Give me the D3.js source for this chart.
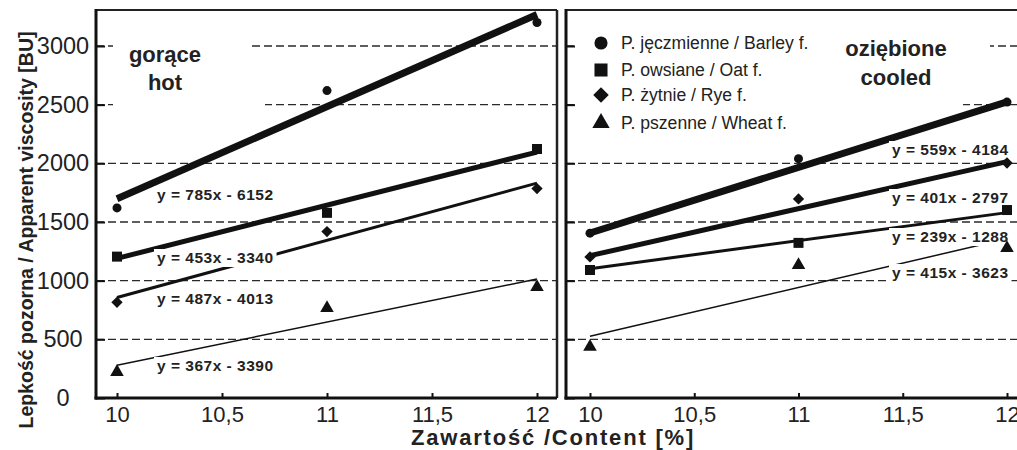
<!DOCTYPE html>
<html>
<head>
<meta charset="utf-8">
<script src="https://cdn.jsdelivr.net/npm/d3@7"></script>
<style>
  body { margin: 0; background: #fff; }
  svg { display: block; font-family: 'Liberation Sans', Arial, sans-serif; }
</style>
</head>
<body>
<svg width="1017" height="450"></svg>
<script>
// data
const contents = [10, 11, 12]
const xTicks = [10, 10.5, 11, 11.5, 12]
const yTicks = [0, 500, 1000, 1500, 2000, 2500, 3000]
const seriesKeys = ['barley', 'oat', 'rye', 'wheat']
const legendLabels = ['P. jęczmienne / Barley f.', 'P. owsiane / Oat f.', 'P. żytnie / Rye f.', 'P. pszenne / Wheat f.']

// hot pastes
const hotBarley = [1620, 2620, 3200]
const hotOat = [1205, 1578, 2122]
const hotRye = [815, 1418, 1785]
const hotWheat = [222, 767, 946]
const hotSlope = [785, 453, 487, 367]
const hotIntercept = [-6152, -3340, -4013, -3390]

// cooled pastes
const cooledBarley = [1405, 2040, 2522]
const cooledOat = [1091, 1322, 1602]
const cooledRye = [1202, 1697, 2003]
const cooledWheat = [437, 1133, 1278]
const cooledSlope = [559, 239, 401, 415]
const cooledIntercept = [-4184, -1288, -2797, -3623]

const svg = d3.select('svg')
const frameTop = 10
const frameBottom = 398

const y = d3.scaleLinear().domain([0, 3000]).range([frameBottom, 46])

const symbols = {
  barley: { type: d3.symbolCircle, size: 64, rot: 0 },
  oat: { type: d3.symbolSquare, size: 100, rot: 0 },
  rye: { type: d3.symbolSquare, size: 64, rot: 45 },
  wheat: { type: d3.symbolTriangle, size: 80, rot: 0 }
}

const panels = [
  {
    left: 96, right: 557, x: d3.scaleLinear().domain([10, 12]).range([117, 537]),
    values: [hotBarley, hotOat, hotRye, hotWheat],
    slope: hotSlope, intercept: hotIntercept,
    widths: [7, 5, 3, 1.5],
    labelX: 157, labelY: [200, 263, 304, 371], eqSize: 15.5,
    labels: true,
    title: ['gorące', 'hot'], titleX: 165, titleY: [62, 90],
    boxes: [[113, 28, 137, 44], [113, 72, 152, 40]]
  },
  {
    left: 566, right: 1030, x: d3.scaleLinear().domain([10, 12]).range([590, 1007]),
    values: [cooledBarley, cooledOat, cooledRye, cooledWheat],
    slope: cooledSlope, intercept: cooledIntercept,
    widths: [7, 3, 5, 1.5],
    labelX: 892, labelY: [155, 242, 203, 278], eqSize: 15.5,
    labels: false,
    title: ['oziębione', 'cooled'], titleX: 896, titleY: [56, 85],
    boxes: [[578, 28, 412, 44], [578, 72, 385, 40]]
  }
]

panels.forEach((p) => {
  const g = svg.append('g')

  // dashed grid
  g.append('g').selectAll('line')
    .data(yTicks.slice(1))
    .enter()
    .append('line')
    .attr('x1', p.left).attr('x2', p.right)
    .attr('y1', (d) => y(d)).attr('y2', (d) => y(d))
    .attr('stroke', '#2a2a2a')
    .attr('stroke-width', 1.4)
    .attr('stroke-dasharray', '8,4')

  // white boxes behind titles / legend
  g.append('g').selectAll('rect')
    .data(p.boxes)
    .enter()
    .append('rect')
    .attr('x', (d) => d[0]).attr('y', (d) => d[1])
    .attr('width', (d) => d[2]).attr('height', (d) => d[3])
    .attr('fill', '#fff')

  // trend lines
  g.append('g').selectAll('line')
    .data(seriesKeys)
    .enter()
    .append('line')
    .attr('x1', p.x(10)).attr('x2', p.x(12))
    .attr('y1', (d, i) => y(p.slope[i] * 10 + p.intercept[i]))
    .attr('y2', (d, i) => y(p.slope[i] * 12 + p.intercept[i]))
    .attr('stroke', '#111')
    .attr('stroke-width', (d, i) => p.widths[i])

  // equation labels with white background
  const eq = g.append('g').selectAll('g')
    .data(seriesKeys)
    .enter()
    .append('g')
    .attr('transform', (d, i) => `translate(${p.labelX},${p.labelY[i]})`)
  const eqRect = eq.append('rect')
    .attr('x', -3).attr('y', -14).attr('height', 18)
    .attr('fill', '#fff')
  eq.append('text')
    .attr('font-size', p.eqSize)
    .attr('font-weight', 'bold')
    .attr('letter-spacing', 0.5)
    .attr('fill', '#222')
    .text((d, i) => `y = ${p.slope[i]}x - ${-p.intercept[i]}`)
  eqRect.attr('width', function () {
    return this.parentNode.querySelector('text').getComputedTextLength() + 6
  })

  // markers
  seriesKeys.forEach((k, si) => {
    const s = symbols[k]
    g.append('g').selectAll('path')
      .data(p.values[si])
      .enter()
      .append('path')
      .attr('d', d3.symbol().type(s.type).size(s.size))
      .attr('transform', (d, i) => `translate(${p.x(contents[i])},${y(d)}) rotate(${s.rot})`)
      .attr('fill', '#111')
  })

  // titles
  g.append('g').selectAll('text')
    .data(p.title)
    .enter()
    .append('text')
    .attr('x', p.titleX)
    .attr('y', (d, i) => p.titleY[i])
    .attr('text-anchor', 'middle')
    .attr('font-size', 22)
    .attr('font-weight', 'bold')
    .attr('fill', '#222')
    .text((d) => d)

  // axes
  const xAxis = d3.axisBottom(p.x)
    .tickValues(xTicks)
    .tickSizeInner(-5).tickSizeOuter(0).tickPadding(8)
    .tickFormat((d) => String(d).replace('.', ','))
  const xg = g.append('g').attr('transform', `translate(0,${frameBottom})`).call(xAxis)
  xg.select('.domain').remove()
  xg.selectAll('line').attr('stroke', '#111').attr('stroke-width', 2)
  xg.selectAll('text').attr('font-size', 22).attr('fill', '#222').attr('font-family', 'Liberation Sans, Arial, sans-serif')

  const yAxis = d3.axisLeft(y)
    .tickValues(yTicks)
    .tickFormat(d3.format('d'))
    .tickSizeInner(-9).tickSizeOuter(0).tickPadding(33)
  const yg = g.append('g').attr('transform', `translate(${p.left},0)`).call(yAxis)
  yg.select('.domain').remove()
  yg.selectAll('line').attr('stroke', '#111').attr('stroke-width', 2)
  if (p.labels) {
    yg.selectAll('text').attr('text-anchor', 'middle').attr('font-size', 23.5)
      .attr('fill', '#222').attr('font-family', 'Liberation Sans, Arial, sans-serif')
  } else {
    yg.selectAll('text').remove()
  }

  // frame
  g.append('line').attr('x1', p.left).attr('x2', p.right).attr('y1', frameTop).attr('y2', frameTop)
    .attr('stroke', '#222').attr('stroke-width', 2)
  g.append('line').attr('x1', p.right).attr('x2', p.right).attr('y1', frameTop).attr('y2', frameBottom)
    .attr('stroke', '#222').attr('stroke-width', 2.5)
  g.append('line').attr('x1', p.left).attr('x2', p.left).attr('y1', frameTop - 1).attr('y2', frameBottom + 1.5)
    .attr('stroke', '#111').attr('stroke-width', 3)
  g.append('line').attr('x1', p.left - 1.5).attr('x2', p.right).attr('y1', frameBottom).attr('y2', frameBottom)
    .attr('stroke', '#111').attr('stroke-width', 3)
})

// legend in the cooled panel
const legendSymbols = [
  { type: d3.symbolCircle, size: 135, rot: 0 },
  { type: d3.symbolSquare, size: 170, rot: 0 },
  { type: d3.symbolSquare, size: 120, rot: 45 },
  { type: d3.symbolTriangle, size: 130, rot: 0 }
]
const legendRows = [43, 70, 95, 123]
const legend = svg.append('g').selectAll('g')
  .data(legendLabels)
  .enter()
  .append('g')
  .attr('transform', (d, i) => `translate(601,${legendRows[i]})`)
legend.append('path')
  .attr('d', (d, i) => d3.symbol().type(legendSymbols[i].type).size(legendSymbols[i].size)())
  .attr('transform', (d, i) => `rotate(${legendSymbols[i].rot})`)
  .attr('fill', '#111')
legend.append('text')
  .attr('x', 20).attr('dy', '0.36em')
  .attr('font-size', 17.6)
  .attr('fill', '#222')
  .text((d) => d)

// axis titles
svg.append('text')
  .attr('transform', 'translate(33,230) rotate(-90)')
  .attr('text-anchor', 'middle')
  .attr('font-size', 19.5)
  .attr('font-weight', 'bold')
  .attr('fill', '#222')
  .text('Lepkość pozorna / Apparent viscosity [BU]')

svg.append('text')
  .attr('x', 553).attr('y', 445)
  .attr('text-anchor', 'middle')
  .attr('font-size', 22)
  .attr('font-weight', 'bold')
  .attr('letter-spacing', 1.8)
  .attr('fill', '#222')
  .text('Zawartość /Content [%]')
</script>
</body>
</html>
